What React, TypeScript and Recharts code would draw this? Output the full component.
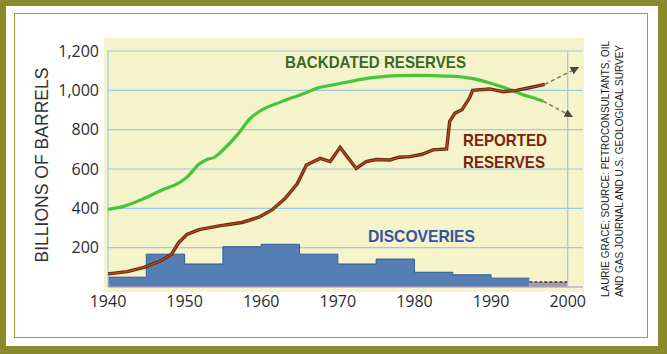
import React from "react";
import {
  ComposedChart,
  Line,
  Area,
  XAxis,
  YAxis,
  CartesianGrid,
  ReferenceLine,
} from "recharts";

// ---- data ----
const backdatedYears = [1940, 1942, 1944.7, 1947, 1949.2, 1950.3, 1951.9, 1953, 1953.8, 1955.3, 1956.9, 1958.6, 1960.3, 1962.5, 1964, 1966, 1967.2, 1969, 1971.6, 1974, 1975.9, 1978, 1980.3, 1982.5, 1984.6, 1986.5, 1988.1, 1989.6, 1991.1, 1992.6, 1994.1, 1995.5, 1996.8];
const backdatedValues = [395, 410, 450, 492, 528, 558, 625, 650, 658, 708, 775, 858, 905, 940, 962, 990, 1010, 1025, 1045, 1062, 1070, 1075, 1076, 1075, 1072, 1066, 1056, 1040, 1022, 1002, 979, 962, 945];

const reportedYears = [1940, 1942.5, 1944.7, 1946.9, 1948.3, 1949.2, 1950.3, 1951.9, 1954.7, 1957.5, 1959.7, 1961.4, 1963.1, 1964.7, 1965.9, 1967.7, 1969, 1970.3, 1972.4, 1973.7, 1975, 1976.8, 1978, 1979.4, 1981, 1982.4, 1984.2, 1984.6, 1985.3, 1986.2, 1987.2, 1987.6, 1989.8, 1991.6, 1993.3, 1995, 1997];
const reportedValues = [67, 78, 100, 133, 167, 225, 267, 292, 312, 328, 355, 392, 450, 525, 620, 654, 638, 710, 603, 638, 648, 646, 660, 663, 675, 697, 702, 842, 884, 901, 962, 1000, 1007, 993, 1000, 1013, 1030];

const backdatedProjYears = [1996.8, 2000.5];
const backdatedProjValues = [945, 868];
const reportedProjYears = [1997, 2001.3];
const reportedProjValues = [1030, 1115];

const discoveryBinStarts = [1940, 1945, 1950, 1955, 1960, 1965, 1970, 1975, 1980, 1985, 1990];
const discoveryValues = [50, 167, 117, 205, 217, 167, 117, 142, 75, 62, 45];
const projectedBinYears = [1995, 2000];
const projectedBinValues = [25, 25];

const xTicks = [1940, 1950, 1960, 1970, 1980, 1990, 2000];
const yTicks = [200, 400, 600, 800, 1000, 1200];

// ---- merged table for the chart ----
const rowsMap = new Map<number, any>();
function addSeries(key: string, xs: number[], ys: number[]) {
  xs.forEach((x, i) => {
    let r = rowsMap.get(x);
    if (!r) {
      r = { year: x };
      rowsMap.set(x, r);
    }
    r[key] = ys[i];
  });
}
addSeries("backdated", backdatedYears, backdatedValues);
addSeries("reported", reportedYears, reportedValues);
addSeries("backdatedProj", backdatedProjYears, backdatedProjValues);
addSeries("reportedProj", reportedProjYears, reportedProjValues);
addSeries(
  "discoveries",
  [...discoveryBinStarts, 1995],
  [...discoveryValues, discoveryValues[discoveryValues.length - 1]]
);
addSeries("discoveriesProj", projectedBinYears, projectedBinValues);
const data = Array.from(rowsMap.values()).sort((a, b) => a.year - b.year);

const GRID = "#9ccbe8";
const SANS = "'Liberation Sans', Arial, sans-serif";

export default function App() {
  return (
    <div style={{ position: "absolute", left: 0, top: 0, width: 667, height: 354, background: "#ffffff" }}>
      <svg width={0} height={0} style={{ position: "absolute" }}>
        <defs>
          <marker id="arrowHead" viewBox="0 0 10 10" refX="8" refY="5" markerWidth="6" markerHeight="6" orient="auto">
            <path d="M0,0 L10,5 L0,10 z" fill="#4a4a3a" />
          </marker>
        </defs>
      </svg>
      {/* frame */}
      <div style={{ position: "absolute", left: 0, top: 0, width: 667, height: 354, boxSizing: "border-box", border: "6px solid #8a8a2c", borderRightWidth: 9, borderBottomWidth: 8 }} />
      <div style={{ position: "absolute", left: 14, top: 13, width: 667 - 14 - 19, height: 354 - 13 - 16, boxSizing: "border-box", border: "1.5px solid #9c9c3c" }} />
      {/* plot background */}
      <div style={{ position: "absolute", left: 104, top: 38, width: 480, height: 254, background: "#f4f3c9" }} />
      <div style={{ position: "absolute", left: 0, top: 0 }}>
        <ComposedChart
          width={667}
          height={354}
          data={data}
          margin={{ top: 51, right: 84, bottom: 37, left: 48 }}
        >
          <CartesianGrid vertical={false} stroke={GRID} strokeWidth={1.2} />
          <ReferenceLine x={1940} stroke={GRID} strokeWidth={1.2} />
          <ReferenceLine x={2000} stroke={GRID} strokeWidth={1.2} />
          <ReferenceLine y={0} stroke="#d9a0c0" strokeWidth={1} />
          <XAxis
            dataKey="year"
            type="number"
            domain={[1940, 2002]}
            ticks={xTicks}
            tickLine={false}
            axisLine={false}
            tickSize={0}
            tickMargin={9}
            height={30}
            tick={{ fill: "#2b2b2b", fontSize: 16, fontFamily: "'Open Sans', sans-serif" }}
          />
          <YAxis
            type="number"
            domain={[0, 1200]}
            ticks={yTicks}
            tickLine={false}
            axisLine={false}
            tickSize={0}
            tickMargin={9}
            width={60}
            tickFormatter={(v: number) => v.toLocaleString("en-US")}
            tick={{ fill: "#2b2b2b", fontSize: 16, fontFamily: "'Open Sans', sans-serif" }}
          />
          <Area
            type="stepAfter"
            dataKey="discoveries"
            connectNulls
            stroke="#2f5c9a"
            strokeWidth={1}
            fill="#4471b0"
            fillOpacity={0.9}
            isAnimationActive={false}
            dot={false}
            activeDot={false}
          />
          <Area
            type="stepAfter"
            dataKey="discoveriesProj"
            connectNulls
            stroke="#5a2a20"
            strokeWidth={1.5}
            strokeDasharray="3 2"
            fill="#6d7fa8"
            fillOpacity={0.7}
            isAnimationActive={false}
            dot={false}
            activeDot={false}
          />
          <Line
            type="linear"
            dataKey="backdatedProj"
            connectNulls
            stroke="#707060"
            strokeWidth={1.4}
            strokeDasharray="4 3"
            markerEnd="url(#arrowHead)"
            dot={false}
            activeDot={false}
            isAnimationActive={false}
          />
          <Line
            type="linear"
            dataKey="reportedProj"
            connectNulls
            stroke="#707060"
            strokeWidth={1.4}
            strokeDasharray="4 3"
            markerEnd="url(#arrowHead)"
            dot={false}
            activeDot={false}
            isAnimationActive={false}
          />
          <Line
            type="monotone"
            dataKey="backdated"
            connectNulls
            stroke="#48c43c"
            strokeWidth={3.2}
            dot={false}
            activeDot={false}
            isAnimationActive={false}
          />
          <Line
            type="linear"
            dataKey="reported"
            connectNulls
            stroke="#6e2612"
            strokeWidth={3.4}
            dot={false}
            activeDot={false}
            isAnimationActive={false}
          />
          <Line
            type="linear"
            dataKey="reported"
            connectNulls
            stroke="#b0501f"
            strokeWidth={1.2}
            dot={false}
            activeDot={false}
            isAnimationActive={false}
          />
        </ComposedChart>
      </div>
      {/* text overlay */}
      <svg width={667} height={354} style={{ position: "absolute", left: 0, top: 0, pointerEvents: "none" }}>
        <text x={285} y={68} fontFamily={SANS} fontWeight="bold" fontSize={17} fill="#3b6a26" textLength={181} lengthAdjust="spacingAndGlyphs">BACKDATED RESERVES</text>
        <text x={463} y={146} fontFamily={SANS} fontWeight="bold" fontSize={17} fill="#7a2414" textLength={84} lengthAdjust="spacingAndGlyphs">REPORTED</text>
        <text x={463} y={168} fontFamily={SANS} fontWeight="bold" fontSize={17} fill="#7a2414" textLength={82} lengthAdjust="spacingAndGlyphs">RESERVES</text>
        <text x={368} y={242} fontFamily={SANS} fontWeight="bold" fontSize={17} fill="#3553a5" textLength={107} lengthAdjust="spacingAndGlyphs">DISCOVERIES</text>
        <text transform="translate(48,165) rotate(-90)" textAnchor="middle" fontFamily={SANS} fontSize={19} fill="#333333" textLength={195} lengthAdjust="spacingAndGlyphs">BILLIONS OF BARRELS</text>
        <text transform="translate(609,297) rotate(-90)" fontFamily={SANS} fontSize={11} fill="#222222" textLength={256} lengthAdjust="spacingAndGlyphs">LAURIE GRACE; SOURCE: PETROCONSULTANTS, OIL</text>
        <text transform="translate(623,297) rotate(-90)" fontFamily={SANS} fontSize={11} fill="#222222" textLength={252} lengthAdjust="spacingAndGlyphs">AND GAS JOURNAL AND U.S. GEOLOGICAL SURVEY</text>
      </svg>
    </div>
  );
}
